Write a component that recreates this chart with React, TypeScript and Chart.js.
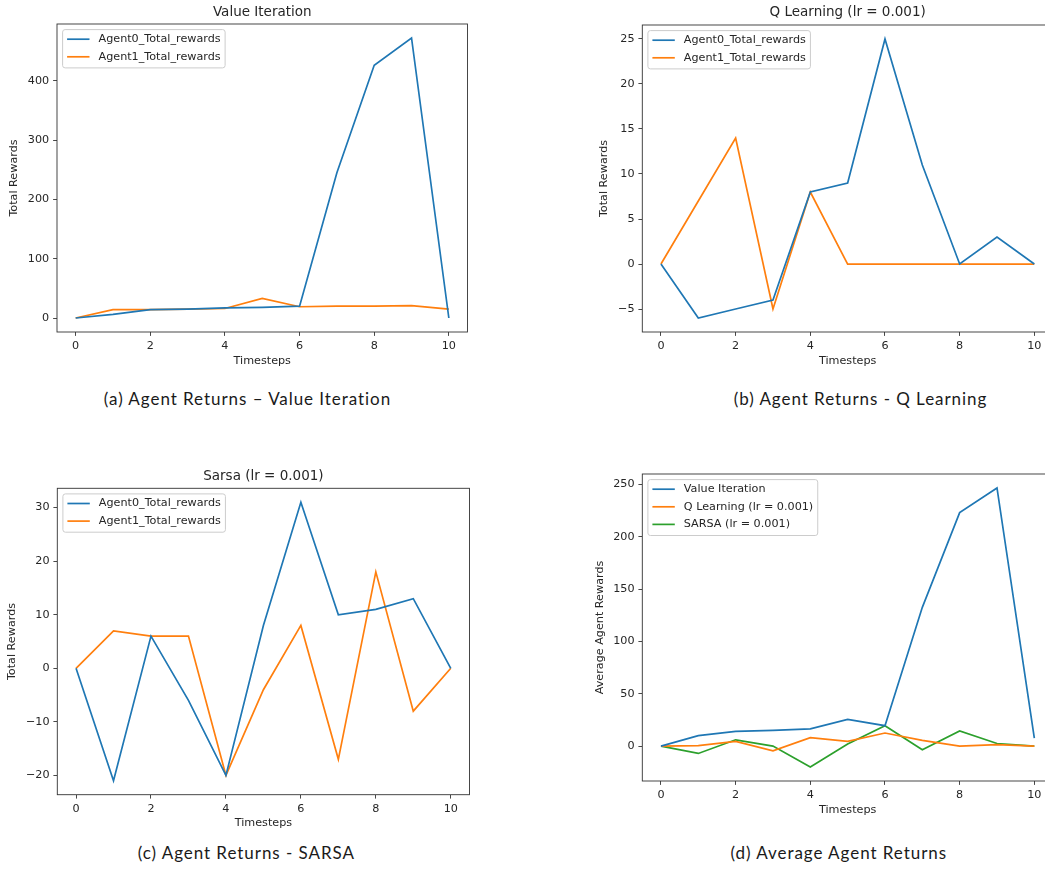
import React, { useEffect, useRef } from "react";
import { Chart, registerables } from "chart.js";

Chart.register(...registerables);
Chart.defaults.font.family = '"DejaVu Sans", sans-serif';

// ---------- data ----------
const timesteps = [0, 1, 2, 3, 4, 5, 6, 7, 8, 9, 10];
const xTicks = [0, 2, 4, 6, 8, 10];

const viAgent0 = [0, 6, 14, 15, 17, 18, 20, 245, 426, 472, 0];
const viAgent1 = [0, 14, 14, 15, 16, 33, 19, 20, 20, 21, 15];

const qAgent0 = [0, -6, -5, -4, 8, 9, 25, 11, 0, 3, 0];
const qAgent1 = [0, 7, 14, -5, 8, 0, 0, 0, 0, 0, 0];

const sarsaAgent0 = [0, -21, 6, -6, -20, 8, 31, 10, 11, 13, 0];
const sarsaAgent1 = [0, 7, 6, 6, -20, -4, 8, -17, 18, -8, 0];

const avgValueIteration = [0, 10, 14, 15, 16.5, 25.5, 19.5, 132.5, 223, 246.5, 7.5];
const avgQLearning = [0, 0.5, 4.5, -4.5, 8, 4.5, 12.5, 5.5, 0, 1.5, 0];
const avgSarsa = [0, -7, 6, 0, -20, 2, 19.5, -3.5, 14.5, 2.5, 0];

const yTicksVI = [0, 100, 200, 300, 400];
const yTicksQ = [-5, 0, 5, 10, 15, 20, 25];
const yTicksSarsa = [-20, -10, 0, 10, 20, 30];
const yTicksAvg = [0, 50, 100, 150, 200, 250];

const agentLabels = ["Agent0_Total_rewards", "Agent1_Total_rewards"];
const avgLabels = ["Value Iteration", "Q Learning (lr = 0.001)", "SARSA (lr = 0.001)"];
const COLORS = ["#1f77b4", "#ff7f0e", "#2ca02c"];

// ---------- styling constants ----------
const FS = 11.2;
const TITLE_FS = 13.5;
const TEXT = "#262626";
const SPINE = "#333333";

const framePlugin = {
  id: "mplFrame",
  afterDatasetsDraw(chart: any) {
    const { ctx, chartArea } = chart;
    ctx.save();
    ctx.strokeStyle = SPINE;
    ctx.lineWidth = 0.9;
    ctx.strokeRect(chartArea.left, chartArea.top, chartArea.right - chartArea.left, chartArea.bottom - chartArea.top);
    ctx.restore();
  },
};

const legendPlugin = {
  id: "mplLegend",
  afterDraw(chart: any) {
    const { ctx, chartArea } = chart;
    const ds = chart.data.datasets;
    ctx.save();
    ctx.font = `${FS}px "DejaVu Sans", sans-serif`;
    const tw = Math.max(...ds.map((d: any) => ctx.measureText(d.label).width));
    const bx = chartArea.left + 5.6;
    const by = chartArea.top + 5.6;
    const w = tw + 4.5 + 22.4 + 9 + 4.5;
    const h = 20.7 + 17.6 * (ds.length - 1);
    ctx.beginPath();
    (ctx as any).roundRect(bx, by, w, h, 2.5);
    ctx.fillStyle = "rgba(255,255,255,0.8)";
    ctx.fill();
    ctx.strokeStyle = "#cccccc";
    ctx.lineWidth = 1;
    ctx.stroke();
    ds.forEach((d: any, i: number) => {
      const y = by + 9.6 + i * 17.6;
      ctx.beginPath();
      ctx.moveTo(bx + 4.5, y);
      ctx.lineTo(bx + 26.9, y);
      ctx.strokeStyle = d.borderColor;
      ctx.lineWidth = 1.7;
      ctx.stroke();
      ctx.fillStyle = TEXT;
      ctx.textBaseline = "middle";
      ctx.textAlign = "left";
      ctx.fillText(d.label, bx + 35.9, y);
    });
    ctx.restore();
  },
};

type Box = { left: number; top: number; width: number; height: number };
type Plot = { l: number; t: number; r: number; b: number };

type Spec = {
  box: Box;
  plot: Plot;
  title?: string;
  titleCenterY?: number;
  yTitle: string;
  yTitleX: number;
  xTitleY: number;
  yTicks: number[];
  series: number[][];
  labels: string[];
};

const fmt = (v: any) => String(v).replace("-", "\u2212");

function makeConfig(s: Spec): any {
  const all = s.series.flat();
  const dmin = Math.min(...all);
  const dmax = Math.max(...all);
  const span = dmax - dmin;
  const yMin = dmin - 0.05 * span;
  const yMax = dmax + 0.05 * span;

  const lh = FS * 1.2;
  const tlh = TITLE_FS * 1.2;
  const yWidth = s.plot.l - s.box.left;
  const xHeight = s.box.top + s.box.height - s.plot.b;
  const yTitlePad = s.yTitleX - s.box.left - lh / 2;
  const xTitlePad = s.box.top + s.box.height - s.xTitleY - lh / 2;
  const padRight = s.box.left + s.box.width - s.plot.r;

  let padTop = 0;
  let titleOpts: any = { display: false };
  if (s.title) {
    const tTop = (s.titleCenterY as number) - s.box.top - tlh / 2;
    const tBottom = s.plot.t - s.box.top - tTop - tlh;
    titleOpts = {
      display: true,
      text: s.title,
      fullSize: false,
      color: TEXT,
      font: { size: TITLE_FS, weight: "normal" },
      padding: { top: tTop, bottom: tBottom },
    };
  } else {
    padTop = s.plot.t - s.box.top;
  }

  const tickCommon = {
    color: TEXT,
    font: { size: FS },
    padding: 3.9,
    autoSkip: false,
    maxRotation: 0,
    callback: (v: any) => fmt(v),
  };
  const gridCommon = {
    display: true,
    drawOnChartArea: false,
    drawTicks: true,
    tickLength: 3.9,
    tickColor: SPINE,
    tickWidth: 0.9,
  };

  return {
    type: "line",
    data: {
      datasets: s.series.map((vals, i) => ({
        label: s.labels[i],
        data: timesteps.map((t, k) => ({ x: t, y: vals[k] })),
        borderColor: COLORS[i],
        backgroundColor: COLORS[i],
        borderWidth: 1.7,
        pointRadius: 0,
        tension: 0,
        fill: false,
      })),
    },
    options: {
      responsive: false,
      animation: false,
      events: [],
      layout: { padding: { left: 0, top: padTop, right: padRight, bottom: 0 } },
      plugins: {
        legend: { display: false },
        tooltip: { enabled: false },
        title: titleOpts,
      },
      scales: {
        x: {
          type: "linear",
          min: -0.5,
          max: 10.5,
          afterBuildTicks: (scale: any) => {
            scale.ticks = xTicks.map((v) => ({ value: v }));
          },
          afterFit: (scale: any) => {
            scale.height = xHeight;
          },
          ticks: tickCommon,
          grid: gridCommon,
          border: { display: false },
          title: {
            display: true,
            text: "Timesteps",
            color: TEXT,
            font: { size: FS },
            padding: { top: 0, bottom: xTitlePad },
          },
        },
        y: {
          type: "linear",
          min: yMin,
          max: yMax,
          afterBuildTicks: (scale: any) => {
            scale.ticks = s.yTicks.map((v) => ({ value: v }));
          },
          afterFit: (scale: any) => {
            scale.width = yWidth;
          },
          ticks: tickCommon,
          grid: gridCommon,
          border: { display: false },
          title: {
            display: true,
            text: s.yTitle,
            color: TEXT,
            font: { size: FS },
            padding: { top: yTitlePad, bottom: 0 },
          },
        },
      },
    },
    plugins: [framePlugin, legendPlugin],
  };
}

const specs: Spec[] = [
  {
    box: { left: 0, top: 0, width: 490, height: 372 },
    plot: { l: 57, t: 24, r: 467.5, b: 332 },
    title: "Value Iteration",
    titleCenterY: 12,
    yTitle: "Total Rewards",
    yTitleX: 14.3,
    xTitleY: 361,
    yTicks: yTicksVI,
    series: [viAgent0, viAgent1],
    labels: agentLabels,
  },
  {
    box: { left: 580, top: 0, width: 500, height: 372 },
    plot: { l: 642.3, t: 25, r: 1053, b: 332 },
    title: "Q Learning (lr = 0.001)",
    titleCenterY: 12.5,
    yTitle: "Total Rewards",
    yTitleX: 604.3,
    xTitleY: 361,
    yTicks: yTicksQ,
    series: [qAgent0, qAgent1],
    labels: agentLabels,
  },
  {
    box: { left: 0, top: 460, width: 490, height: 380 },
    plot: { l: 57.3, t: 488.3, r: 469.5, b: 794.7 },
    title: "Sarsa (lr = 0.001)",
    titleCenterY: 476,
    yTitle: "Total Rewards",
    yTitleX: 12.3,
    xTitleY: 823.3,
    yTicks: yTicksSarsa,
    series: [sarsaAgent0, sarsaAgent1],
    labels: agentLabels,
  },
  {
    box: { left: 580, top: 460, width: 500, height: 380 },
    plot: { l: 642.3, t: 474, r: 1053, b: 781 },
    yTitle: "Average Agent Rewards",
    yTitleX: 600,
    xTitleY: 810,
    yTicks: yTicksAvg,
    series: [avgValueIteration, avgQLearning, avgSarsa],
    labels: avgLabels,
  },
];

const captions = [
  { text: "(a) Agent Returns \u2013 Value Iteration", cx: 247.5, baseline: 406 },
  { text: "(b) Agent Returns - Q Learning", cx: 860.5, baseline: 406 },
  { text: "(c) Agent Returns - SARSA", cx: 246.3, baseline: 860 },
  { text: "(d) Average Agent Returns", cx: 838.8, baseline: 860 },
];

function ChartCanvas({ spec }: { spec: Spec }) {
  const ref = useRef<HTMLCanvasElement | null>(null);
  useEffect(() => {
    if (!ref.current) return;
    const chart = new Chart(ref.current, makeConfig(spec));
    return () => chart.destroy();
  }, [spec]);
  return (
    <canvas
      ref={ref}
      width={spec.box.width}
      height={spec.box.height}
      style={{
        position: "absolute",
        left: spec.box.left,
        top: spec.box.top,
        width: spec.box.width,
        height: spec.box.height,
      }}
    />
  );
}

export default function App() {
  return (
    <div
      style={{
        position: "absolute",
        left: 0,
        top: 0,
        width: 1045,
        height: 869,
        overflow: "hidden",
        background: "#ffffff",
      }}
    >
      {specs.map((s, i) => (
        <ChartCanvas key={i} spec={s} />
      ))}
      {captions.map((c, i) => (
        <div
          key={"c" + i}
          style={{
            position: "absolute",
            left: c.cx - 250,
            width: 500,
            top: c.baseline - 16.6,
            textAlign: "center",
            fontFamily: "Lato, sans-serif",
            fontSize: 17,
            letterSpacing: "0.95px",
            lineHeight: "20px",
            color: "#1a1a1a",
            whiteSpace: "nowrap",
          }}
        >
          {c.text}
        </div>
      ))}
    </div>
  );
}
